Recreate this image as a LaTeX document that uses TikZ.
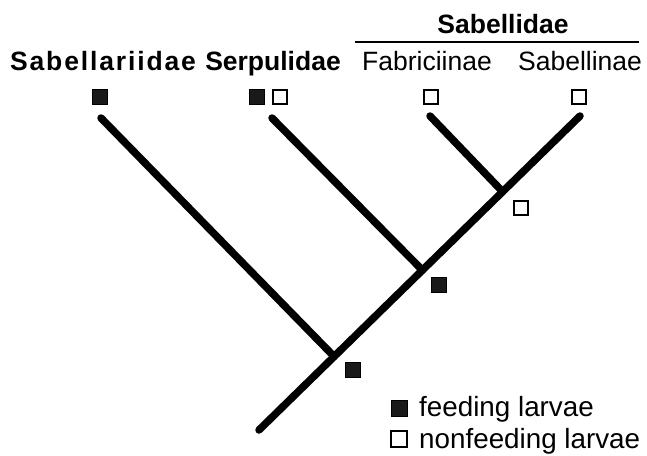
\documentclass[tikz,border=0pt]{standalone}
\usepackage{fontspec}
\setmainfont{Liberation Sans}
\usetikzlibrary{calc}
\begin{document}
\begin{tikzpicture}[x=1pt,y=-1pt,
  branch/.style={line width=7.5pt,line cap=round,draw=black},
  fsq/.style={draw=black,fill=black!90,line width=1pt,minimum size=15pt,inner sep=0pt},
  osq/.style={draw=black,fill=white,line width=2.2pt,minimum size=14.5pt,inner sep=0pt},
  taxon/.style={anchor=base,inner sep=0pt,font=\fontsize{26.5}{30}\selectfont},
  boldtaxon/.style={taxon,font=\fontsize{26.5}{30}\selectfont\bfseries},
  legtext/.style={anchor=base west,inner sep=0pt,font=\fontsize{27.8}{30}\selectfont}]
\useasboundingbox[fill=white] (0,0) rectangle (647,455);
% tree coordinates
\coordinate (root) at (259,430);
\coordinate (D) at (580,116);
\coordinate (A) at (101,118);
\coordinate (B) at (272,118);
\coordinate (C) at (430,116);
\coordinate (n1) at ($(root)!0.234!(D)$);
\coordinate (n2) at ($(root)!0.509!(D)$);
\coordinate (n3) at ($(root)!0.759!(D)$);
% branches
\draw[branch] (root) -- (D);
\draw[branch] (n1) -- (A);
\draw[branch] (n2) -- (B);
\draw[branch] (n3) -- (C);
% taxon labels
\node[boldtaxon] (lA) at (103,70) {\addfontfeatures{LetterSpace=7}Sabellariidae};
\node[boldtaxon] (lB) at (273,70) {Serpulidae};
\node[taxon] (lC) at (427,70) {Fabriciinae};
\node[taxon] (lD) at (580,70) {Sabellinae};
\node[boldtaxon] (lS) at (503,33) {Sabellidae};
\coordinate (sl) at (355,42);
\coordinate (sr) at (639,42);
\draw[line width=2pt] (sl) -- (sr);
% character states at tips
\node[fsq] (sA) at (100,97) {};
\node[fsq] (sB1) at (257,97) {};
\node[osq] (sB2) at (280,97) {};
\node[osq] (sC) at (431,97) {};
\node[osq] (sD) at (579,97) {};
% character states at nodes
\node[fsq] (s1) at (353,370) {};
\node[fsq] (s2) at (439,285) {};
\node[osq] (s3) at (521,208) {};
% legend
\node[fsq,minimum size=16pt] (lf) at (399,408) {};
\node[osq,minimum size=15.5pt] (lo) at (399,439) {};
\node[legtext] (tf) at (419,416) {feeding larvae};
\node[legtext] (to) at (419,448) {nonfeeding larvae};
\end{tikzpicture}
\end{document}
